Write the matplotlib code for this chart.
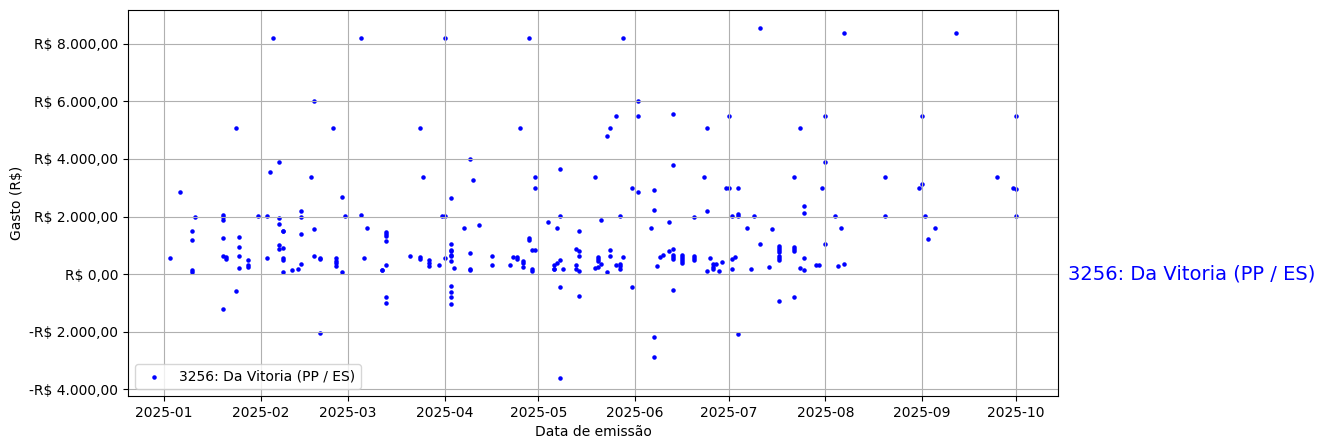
import matplotlib
matplotlib.use("Agg")
import matplotlib.pyplot as plt
import matplotlib.dates as mdates
import matplotlib.ticker as mticker
import pandas as pd

label = "3256: Da Vitoria (PP / ES)"

dates = [
    # January
    "2025-01-03", "2025-01-06", "2025-01-10", "2025-01-10", "2025-01-10", "2025-01-10", "2025-01-11",
    "2025-01-20", "2025-01-20", "2025-01-20", "2025-01-20", "2025-01-20", "2025-01-21", "2025-01-21", "2025-01-20",
    "2025-01-24", "2025-01-24", "2025-01-25", "2025-01-25", "2025-01-25", "2025-01-25",
    "2025-01-28", "2025-01-28", "2025-01-28", "2025-01-31",
    # February
    "2025-02-03", "2025-02-03", "2025-02-04", "2025-02-05", "2025-02-07", "2025-02-07", "2025-02-07", "2025-02-07",
    "2025-02-07", "2025-02-08", "2025-02-08", "2025-02-08", "2025-02-08", "2025-02-08", "2025-02-08",
    "2025-02-11", "2025-02-13", "2025-02-14", "2025-02-14", "2025-02-14", "2025-02-14",
    "2025-02-17", "2025-02-18", "2025-02-18", "2025-02-18", "2025-02-20", "2025-02-20", "2025-02-20",
    "2025-02-24", "2025-02-25", "2025-02-25", "2025-02-25", "2025-02-25", "2025-02-27", "2025-02-27", "2025-02-28",
    # March
    "2025-03-05", "2025-03-05", "2025-03-06", "2025-03-07", "2025-03-12", "2025-03-12",
    "2025-03-13", "2025-03-13", "2025-03-13", "2025-03-13", "2025-03-13", "2025-03-13", "2025-03-13",
    "2025-03-21", "2025-03-24", "2025-03-24", "2025-03-24", "2025-03-25",
    "2025-03-27", "2025-03-27", "2025-03-27", "2025-03-30", "2025-03-31",
    # April
    "2025-04-01", "2025-04-01", "2025-04-01",
    "2025-04-03", "2025-04-03", "2025-04-03", "2025-04-03", "2025-04-03", "2025-04-03", "2025-04-03",
    "2025-04-03", "2025-04-03", "2025-04-03", "2025-04-03", "2025-04-04",
    "2025-04-07", "2025-04-09", "2025-04-09", "2025-04-09", "2025-04-09", "2025-04-10", "2025-04-12",
    "2025-04-16", "2025-04-16", "2025-04-22", "2025-04-23", "2025-04-24", "2025-04-24", "2025-04-25",
    "2025-04-26", "2025-04-26", "2025-04-26", "2025-04-28", "2025-04-28", "2025-04-28",
    "2025-04-29", "2025-04-29", "2025-04-29", "2025-04-30", "2025-04-30", "2025-04-30",
    # May
    "2025-05-04", "2025-05-06", "2025-05-06", "2025-05-06", "2025-05-07", "2025-05-07",
    "2025-05-08", "2025-05-08", "2025-05-08", "2025-05-08", "2025-05-08", "2025-05-09",
    "2025-05-13", "2025-05-13", "2025-05-13", "2025-05-14", "2025-05-14", "2025-05-14", "2025-05-14", "2025-05-14",
    "2025-05-19", "2025-05-19", "2025-05-20", "2025-05-20", "2025-05-20", "2025-05-20",
    "2025-05-21", "2025-05-21", "2025-05-23", "2025-05-23", "2025-05-24", "2025-05-24", "2025-05-24",
    "2025-05-26", "2025-05-26", "2025-05-27", "2025-05-27", "2025-05-27", "2025-05-27",
    "2025-05-28", "2025-05-28", "2025-05-31", "2025-05-31",
    # June
    "2025-06-02", "2025-06-02", "2025-06-02", "2025-06-06", "2025-06-07", "2025-06-07", "2025-06-07", "2025-06-07",
    "2025-06-08", "2025-06-09", "2025-06-10", "2025-06-12", "2025-06-12",
    "2025-06-13", "2025-06-13", "2025-06-13", "2025-06-13", "2025-06-13", "2025-06-13", "2025-06-13",
    "2025-06-16", "2025-06-16", "2025-06-16", "2025-06-16", "2025-06-16",
    "2025-06-20", "2025-06-20", "2025-06-20", "2025-06-20",
    "2025-06-23", "2025-06-24", "2025-06-24", "2025-06-24", "2025-06-25",
    "2025-06-26", "2025-06-26", "2025-06-26", "2025-06-27", "2025-06-28", "2025-06-29", "2025-06-30",
    # July
    "2025-07-01", "2025-07-01", "2025-07-02", "2025-07-02", "2025-07-02", "2025-07-03",
    "2025-07-04", "2025-07-04", "2025-07-04", "2025-07-04", "2025-07-07", "2025-07-08", "2025-07-09",
    "2025-07-11", "2025-07-11", "2025-07-14", "2025-07-15",
    "2025-07-17", "2025-07-17", "2025-07-17", "2025-07-17", "2025-07-17", "2025-07-17", "2025-07-17", "2025-07-17",
    "2025-07-22", "2025-07-22", "2025-07-22", "2025-07-22", "2025-07-22",
    "2025-07-24", "2025-07-24", "2025-07-25", "2025-07-25", "2025-07-25", "2025-07-25",
    "2025-07-29", "2025-07-30", "2025-07-31",
    # August
    "2025-08-01", "2025-08-01", "2025-08-01", "2025-08-04", "2025-08-05", "2025-08-06", "2025-08-07", "2025-08-07",
    "2025-08-20", "2025-08-20", "2025-08-31",
    # September / October
    "2025-09-01", "2025-09-01", "2025-09-02", "2025-09-03", "2025-09-05", "2025-09-12",
    "2025-09-25", "2025-09-30", "2025-10-01", "2025-10-01", "2025-10-01",
]

gasto = [
    # January
    560, 2850, 1500, 1180, 140, 90, 1970,
    2050, 1970, 1880, 1250, 630, 580, 510, -1220,
    5080, -590, 1300, 930, 620, 210,
    490, 310, 240, 2020,
    # February
    2020, 560, 3550, 8210, 3910, 1950, 1740, 1010,
    870, 1500, 1490, 900, 560, 490, 70,
    160, 170, 2190, 1970, 1410, 360,
    3370, 6000, 1570, 630, 560, 510, -2050,
    5080, 545, 465, 380, 300, 2680, 70, 2020,
    # March
    8210, 2050, 560, 1600, 160, 140,
    1460, 1390, 1320, 1160, 310, -780, -990,
    630, 5080, 590, 520, 3370,
    490, 380, 280, 310, 2020,
    # April
    8210, 2020, 560,
    2640, 1040, 840, 790, 660, 630, 450,
    -420, -630, -790, -1040, 210,
    1600, 4000, 730, 170, 140, 3270, 1700,
    630, 310, 310, 590, 590, 520, 5080,
    450, 380, 240, 8210, 1250, 1180,
    835, 170, 100, 835, 3370, 2990,
    # May
    1810, 310, 170, 170, 1600, 380,
    3650, 2020, 490, -450, -3620, 170,
    880, 310, 170, 1500, 810, 630, 100, -770,
    3370, 210, 590, 520, 450, 240,
    1880, 350, 4800, 70, 5080, 835, 630,
    5500, 310, 2020, 350, 280, 170,
    8210, 590, 2990, -450,
    # June
    6000, 5500, 2850, 1600, 2920, 2230, -2190, -2890,
    280, 590, 660, 1810, 800,
    5570, 3790, 870, 660, 590, 520, -560,
    660, 590, 520, 450, 380,
    1980, 630, 560, 490,
    3370, 5080, 2190, 100, 560,
    350, 240, 170, 350, 100, 420, 2990,
    # July
    5500, 2990, 2020, 520, 170, 590,
    2990, 2090, 2020, -2090, 1600, 170, 2020,
    8560, 1040, 240, 1570,
    970, 900, 840, 770, 630, 560, 490, -940,
    3370, 940, 870, 800, -800,
    5080, 210, 2370, 2120, 560, 140,
    310, 310, 2990,
    # August
    5500, 3900, 1040, 2020, 280, 1600, 8380, 350,
    3370, 2020, 2990,
    # September / October
    5500, 3130, 2020, 1220, 1600, 8380,
    3370, 2990, 5500, 2960, 2020,
]

x_label = "Data de emissão"
y_label = "Gasto (R$)"


def brl(v, pos=None):
    s = f"{abs(v):,.2f}".replace(",", "X").replace(".", ",").replace("X", ".")
    return ("-" if v < 0 else "") + "R$ " + s


df = pd.DataFrame({"data": pd.to_datetime(dates), "gasto": gasto})

fig = plt.figure(figsize=(13.23, 4.48), dpi=100)
ax = fig.add_axes([128 / 1323, 52 / 448, 930 / 1323, 386 / 448])

ax.scatter(df["data"], df["gasto"], s=5, color="blue", label=label)

ax.xaxis.set_major_locator(mdates.MonthLocator())
ax.xaxis.set_major_formatter(mdates.DateFormatter("%Y-%m"))
ax.yaxis.set_major_formatter(mticker.FuncFormatter(brl))

ax.set_xlabel(x_label)
ax.set_ylabel(y_label)
ax.grid(True)
ax.legend(loc="lower left")

ax.text(1.0105, 0, label, transform=ax.get_yaxis_transform(), color="blue",
        fontsize=14, va="center", ha="left")

fig.savefig("out.png", dpi=100)
